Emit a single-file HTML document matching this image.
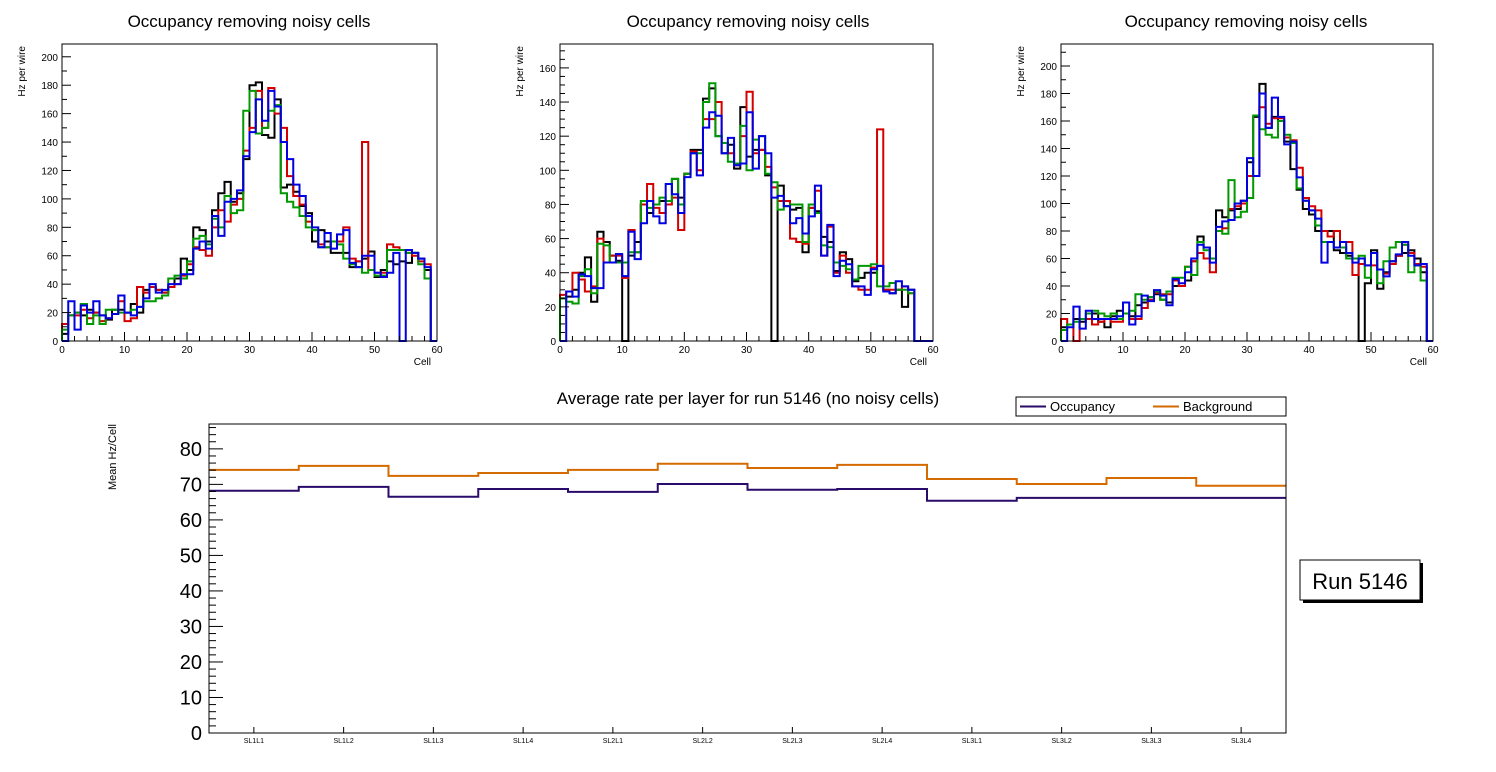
<!DOCTYPE html>
<html><head><meta charset="utf-8"><style>
body{margin:0;background:#fff;font-family:"Liberation Sans",sans-serif;}
svg{display:block}
</style></head><body>
<svg id="c" width="1496" height="772" xmlns="http://www.w3.org/2000/svg" font-family="Liberation Sans, sans-serif"></svg>
<script>
const cells=60;
const p1Black=[5,18,20,18,22,20,18,15,22,22,20,26,20,36,38,36,34,38,44,58,50,80,78,70,92,104,112,98,104,128,180,182,145,143,170,108,110,105,95,90,70,78,70,62,62,62,52,56,58,63,45,50,56,54,56,55,62,58,50,0];
const p1Red=[12,18,18,22,16,20,14,16,19,28,14,16,38,34,38,36,34,38,40,46,54,66,64,60,80,92,84,96,100,134,150,176,150,178,160,150,116,102,96,84,78,68,66,70,70,80,58,56,140,50,48,48,68,66,64,62,60,56,54,0];
const p1Green=[8,18,20,26,12,18,12,22,22,20,20,22,24,28,28,30,32,44,46,44,56,72,74,68,86,80,102,90,92,162,176,146,150,162,166,104,98,94,88,80,78,66,66,70,68,58,54,52,48,50,46,46,64,64,64,62,62,54,44,0];
const p1Blue=[0,28,8,25,20,28,18,16,19,32,20,18,24,30,40,34,36,40,40,47,47,65,70,65,88,74,98,100,106,130,147,170,155,176,165,140,128,110,102,88,80,66,76,65,75,78,55,52,60,60,48,45,48,62,0,64,62,58,52,0];
const p2Black=[25,26,30,40,49,23,64,58,50,47,0,50,58,80,75,80,82,82,95,84,98,112,112,142,148,120,110,115,101,137,108,112,112,97,0,91,79,77,78,52,78,76,61,58,41,52,48,35,37,40,40,44,30,28,30,20,30,0,0,0];
const p2Red=[27,29,40,36,29,32,60,46,50,50,37,65,52,80,92,78,75,80,84,65,98,111,100,130,130,140,116,110,103,120,146,110,112,102,90,82,82,60,58,57,78,88,50,67,40,50,40,32,30,30,43,124,30,30,30,32,28,0,0,0];
const p2Green=[25,23,22,38,42,28,57,56,46,46,46,52,52,82,78,80,84,82,95,80,98,110,110,140,151,120,116,105,104,126,100,118,120,98,93,77,79,80,80,58,80,75,56,55,46,44,42,36,44,44,45,32,32,34,30,30,28,0,0,0];
const p2Blue=[0,29,26,39,38,31,31,46,46,51,38,64,48,69,82,73,69,92,86,75,96,110,97,125,134,132,110,119,103,104,134,101,120,110,84,85,79,69,72,63,73,91,50,68,38,47,45,32,32,27,42,44,29,28,35,32,30,0,0,0];
const p3Black=[10,12,16,14,16,20,14,10,18,22,20,18,26,28,30,34,30,28,40,40,44,58,76,68,60,95,90,95,96,102,130,163,187,155,163,160,145,125,110,96,92,80,80,80,66,64,62,60,0,42,66,38,50,58,62,64,66,60,50,0];
const p3Red=[16,12,0,16,16,12,14,16,14,14,20,16,16,24,30,35,34,34,44,40,54,58,64,60,50,80,82,96,98,100,120,120,170,158,162,162,148,146,126,104,98,95,80,76,80,72,72,48,56,55,55,52,49,56,62,70,64,56,54,0];
const p3Green=[8,12,14,16,20,22,20,18,20,16,20,22,34,30,32,36,30,36,46,46,54,48,72,66,60,80,78,117,90,94,104,164,154,150,148,160,150,144,111,102,95,84,72,72,68,68,60,60,62,46,64,42,58,68,72,70,50,55,44,0];
const p3Blue=[0,10,25,9,22,16,16,16,16,18,28,12,18,33,29,37,33,26,45,42,50,60,70,68,57,83,87,88,100,102,133,120,180,155,177,163,143,145,119,102,95,89,57,72,68,72,64,57,60,55,64,52,47,58,63,72,62,55,56,0];
const layers=["SL1L1","SL1L2","SL1L3","SL1L4","SL2L1","SL2L2","SL2L3","SL2L4","SL3L1","SL3L2","SL3L3","SL3L4"];
const occupancy=[68.2,69.3,66.5,68.7,67.9,70.1,68.5,68.7,65.4,66.2,66.2,66.2];
const background=[74.1,75.2,72.4,73.2,74.1,75.8,74.6,75.5,71.5,70.1,71.8,69.6];
const bottomTicks=[0,10,20,30,40,50,60,70,80];

const svg=document.getElementById('c');
const NS="http://www.w3.org/2000/svg";
function mk(tag,attrs,parent){const e=document.createElementNS(NS,tag);for(const k in attrs)e.setAttribute(k,attrs[k]);(parent||svg).appendChild(e);return e;}
function txt(s,attrs,parent){const e=mk('text',attrs,parent);e.textContent=s;return e;}

const panels=[
 {x0:62,x1:437,yTop:44,yBot:341,ymax:209,major:20,minor:10,series:[p1Black,p1Red,p1Green,p1Blue],cx:249},
 {x0:560,x1:933,yTop:44,yBot:341,ymax:174,major:20,minor:5,series:[p2Black,p2Red,p2Green,p2Blue],cx:748},
 {x0:1061,x1:1433,yTop:44,yBot:341,ymax:216,major:20,minor:10,series:[p3Black,p3Red,p3Green,p3Blue],cx:1246}
];
const colors=["#000000","#d40000","#009a00","#0000e0"];
const names=["black","red","green","blue"];
panels.forEach((p,pi)=>{
  const g=mk('g',{});
  
  
  const X=v=>p.x0+(p.x1-p.x0)*v/cells;
  const Y=v=>p.yBot-(p.yBot-p.yTop)*v/p.ymax;
  const t=txt('Occupancy removing noisy cells',{x:p.cx,y:27,'font-size':17,'text-anchor':'middle'},g);
  
  
  p.series.forEach((s,si)=>{
    let d='M'+X(0)+','+Y(0);
    s.forEach((v,i)=>{d+=' L'+X(i)+','+Y(v)+' L'+X(i+1)+','+Y(v);});
    d+=' L'+X(cells)+','+Y(0);
    const path=mk('path',{d:d,fill:'none',stroke:colors[si],'stroke-width':2},g);
    
    
  });
  const fr=mk('rect',{x:p.x0,y:p.yTop,width:p.x1-p.x0,height:p.yBot-p.yTop,fill:'none',stroke:'#000','stroke-width':1},g);
  
  
  for(let v=0;v<=cells;v+=2){const L=v%10===0?9:5;mk('line',{x1:X(v),x2:X(v),y1:p.yBot,y2:p.yBot-L,stroke:'#000'},g);
    if(v%10===0){const tl=txt(String(v),{x:X(v),y:p.yBot+12,'font-size':10,'text-anchor':'middle'},g);}}
  for(let v=0;v<=p.ymax;v+=p.minor){const L=v%p.major===0?9:5;mk('line',{x1:p.x0,x2:p.x0+L,y1:Y(v),y2:Y(v),stroke:'#000'},g);
    if(v%p.major===0){const tl=txt(String(v),{x:p.x0-4,y:Y(v)+4,'font-size':10,'text-anchor':'end'},g);}}
  const xt=txt('Cell',{x:p.x1-6,y:365,'font-size':10,'text-anchor':'end'},g);
  
  const yt=txt('Hz per wire',{x:0,y:0,'font-size':10,'text-anchor':'end',transform:'translate('+(p.x0-37)+',46) rotate(-90)'},g);
  
});

(function(){
  const g=mk('g',{});
  
  
  const x0=209,x1=1286,yTop=424,yBot=733,ymax=87;
  const X=i=>x0+(x1-x0)*i/layers.length;
  const Y=v=>yBot-(yBot-yTop)*v/ymax;
  const t=txt('Average rate per layer for run 5146 (no noisy cells)',{x:748,y:404,'font-size':17,'text-anchor':'middle'},g);
  
  [[background,'#d46a00','background-line'],[occupancy,'#2a0a6a','occupancy-line']].forEach(([arr,col,nm])=>{
    let d='';
    arr.forEach((v,i)=>{d+=(i?' L':'M')+X(i)+','+Y(v)+' L'+X(i+1)+','+Y(v);});
    const pth=mk('path',{d:d,fill:'none',stroke:col,'stroke-width':2},g);
    
  });
  const fr=mk('rect',{x:x0,y:yTop,width:x1-x0,height:yBot-yTop,fill:'none',stroke:'#000'},g);
  
  for(let v=0;v<=ymax;v+=2){mk('line',{x1:x0,x2:x0+(v%10===0?14:7),y1:Y(v),y2:Y(v),stroke:'#000'},g);}
  bottomTicks.forEach(v=>{const tl=txt(String(v),{x:x0-7,y:Y(v)+7,'font-size':20,'text-anchor':'end'},g);});
  layers.forEach((l,i)=>{mk('line',{x1:X(i+0.5),x2:X(i+0.5),y1:yBot,y2:yBot-6,stroke:'#000'},g);
    const tl=txt(l,{x:X(i+0.5),y:yBot+10,'font-size':7,'text-anchor':'middle'},g);});
  const yt=txt('Mean Hz/Cell',{x:0,y:0,'font-size':11,'text-anchor':'end',transform:'translate(116,424) rotate(-90)'},g);
  
  const lg=mk('g',{},g);
  
  mk('rect',{x:1016,y:397,width:270,height:19,fill:'#fff',stroke:'#000'},lg);
  mk('line',{x1:1020,x2:1046,y1:406.5,y2:406.5,stroke:'#2a0a6a','stroke-width':2},lg);
  const l1=txt('Occupancy',{x:1050,y:411,'font-size':13},lg);
  mk('line',{x1:1153,x2:1179,y1:406.5,y2:406.5,stroke:'#d46a00','stroke-width':2},lg);
  const l2=txt('Background',{x:1183,y:411,'font-size':13},lg);
  const rb=mk('g',{},g);
  
  mk('rect',{x:1303,y:563,width:120,height:40,fill:'#000'},rb);
  mk('rect',{x:1300,y:560,width:120,height:40,fill:'#fff',stroke:'#000'},rb);
  txt('Run 5146',{x:1360,y:589,'font-size':22,'text-anchor':'middle'},rb);
})();
</script>
</body></html>
